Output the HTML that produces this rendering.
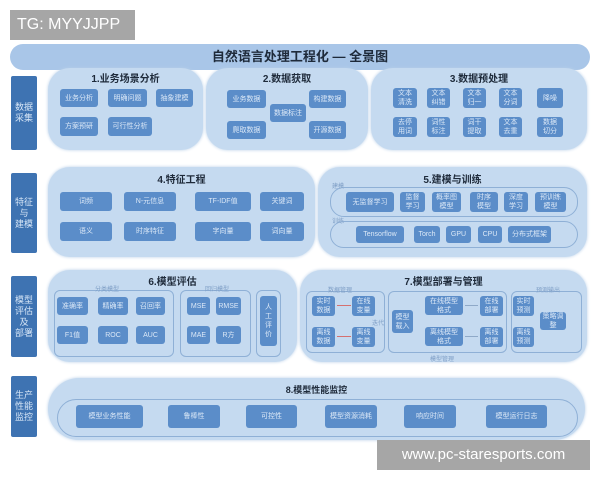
<!DOCTYPE html>
<html><head><meta charset="utf-8"><style>
body{margin:0;width:600px;height:480px;background:#fff;position:relative;overflow:hidden;font-family:"Liberation Sans","Noto Sans CJK SC",sans-serif}
div{position:absolute;box-sizing:border-box}
.p{background:#c5daf0;border-radius:22px;box-shadow:0 0 3px #b8cfe8}
.b{background:#5b8dc9;color:#dbe8f7;font-size:7px;border-radius:3px;display:flex;align-items:center;justify-content:center;text-align:center;line-height:9px}
.s{background:#3e73b2;color:#d6e5f6;font-size:9px;border-radius:2px;display:flex;align-items:center;justify-content:center;text-align:center;line-height:11px;left:11px;width:26px}
.t{font-size:10px;font-weight:bold;color:#1e2a3a;text-align:center}
.o{border:1px solid #8fb0d6;border-radius:14px}
.g{border:1px solid #8fb0d6;border-radius:6px}
.l{font-size:6px;color:#7f9fc6}
</style></head><body>
<div style="left:10px;top:10px;width:125px;height:30px;background:#a6a6a6;color:#fff;font-size:16px;line-height:30px;padding-left:7px">TG: MYYJJPP</div>
<div style="left:10px;top:44px;width:580px;height:26px;background:#a9c6e8;border-radius:13px;text-align:center;font-size:13px;font-weight:bold;line-height:26px;color:#1e2a3a">自然语言处理工程化 — 全景图</div>

<div class="s" style="top:76px;height:74px">数据<br>采集</div>
<div class="p" style="left:48px;top:68px;width:155px;height:82px"></div>
<div class="p" style="left:206px;top:68px;width:162px;height:82px"></div>
<div class="p" style="left:371px;top:68px;width:216px;height:82px"></div>
<div class="t" style="left:48px;top:70px;width:155px">1.业务场景分析</div>
<div class="t" style="left:206px;top:70px;width:162px">2.数据获取</div>
<div class="t" style="left:371px;top:70px;width:216px">3.数据预处理</div>
<div class="b" style="left:60px;top:89px;width:38px;height:18px">业务分析</div>
<div class="b" style="left:108px;top:89px;width:39px;height:18px">明确问题</div>
<div class="b" style="left:156px;top:89px;width:37px;height:18px">抽象建模</div>
<div class="b" style="left:60px;top:117px;width:38px;height:19px">方案预研</div>
<div class="b" style="left:108px;top:117px;width:44px;height:19px">可行性分析</div>
<div class="b" style="left:227px;top:90px;width:39px;height:18px">业务数据</div>
<div class="b" style="left:270px;top:104px;width:36px;height:18px">数据标注</div>
<div class="b" style="left:309px;top:90px;width:37px;height:18px">构建数据</div>
<div class="b" style="left:227px;top:121px;width:39px;height:18px">爬取数据</div>
<div class="b" style="left:309px;top:121px;width:37px;height:18px">开源数据</div>
<div class="b" style="left:393px;top:88px;width:24px;height:20px">文本<br>清洗</div>
<div class="b" style="left:427px;top:88px;width:23px;height:20px">文本<br>纠错</div>
<div class="b" style="left:463px;top:88px;width:23px;height:20px">文本<br>归一</div>
<div class="b" style="left:499px;top:88px;width:23px;height:20px">文本<br>分词</div>
<div class="b" style="left:537px;top:88px;width:26px;height:20px">降噪</div>
<div class="b" style="left:393px;top:117px;width:24px;height:20px">去停<br>用词</div>
<div class="b" style="left:427px;top:117px;width:23px;height:20px">词性<br>标注</div>
<div class="b" style="left:463px;top:117px;width:23px;height:20px">词干<br>提取</div>
<div class="b" style="left:499px;top:117px;width:23px;height:20px">文本<br>去重</div>
<div class="b" style="left:537px;top:117px;width:26px;height:20px">数据<br>切分</div>

<div class="s" style="top:173px;height:80px">特征<br>与<br>建模</div>
<div class="p" style="left:48px;top:167px;width:267px;height:90px"></div>
<div class="p" style="left:318px;top:167px;width:269px;height:90px"></div>
<div class="t" style="left:48px;top:171px;width:267px">4.特征工程</div>
<div class="t" style="left:318px;top:171px;width:269px">5.建模与训练</div>
<div class="b" style="left:60px;top:192px;width:52px;height:19px">词频</div>
<div class="b" style="left:124px;top:192px;width:52px;height:19px">N-元信息</div>
<div class="b" style="left:195px;top:192px;width:56px;height:19px">TF-IDF值</div>
<div class="b" style="left:260px;top:192px;width:44px;height:19px">关键词</div>
<div class="b" style="left:60px;top:222px;width:52px;height:19px">语义</div>
<div class="b" style="left:124px;top:222px;width:52px;height:19px">时序特征</div>
<div class="b" style="left:195px;top:222px;width:56px;height:19px">字向量</div>
<div class="b" style="left:260px;top:222px;width:44px;height:19px">词向量</div>
<div class="o" style="left:330px;top:187px;width:248px;height:30px"></div>
<div class="o" style="left:330px;top:221px;width:248px;height:27px"></div>
<div class="l" style="left:332px;top:181px">建模</div>
<div class="l" style="left:332px;top:216px">训练</div>
<div class="b" style="left:346px;top:192px;width:48px;height:20px">无监督学习</div>
<div class="b" style="left:400px;top:192px;width:25px;height:20px">监督<br>学习</div>
<div class="b" style="left:432px;top:192px;width:29px;height:20px">概率图<br>模型</div>
<div class="b" style="left:470px;top:192px;width:28px;height:20px">时序<br>模型</div>
<div class="b" style="left:504px;top:192px;width:24px;height:20px">深度<br>学习</div>
<div class="b" style="left:535px;top:192px;width:31px;height:20px">预训练<br>模型</div>
<div class="b" style="left:356px;top:226px;width:48px;height:17px">Tensorflow</div>
<div class="b" style="left:414px;top:226px;width:26px;height:17px">Torch</div>
<div class="b" style="left:446px;top:226px;width:25px;height:17px">GPU</div>
<div class="b" style="left:478px;top:226px;width:24px;height:17px">CPU</div>
<div class="b" style="left:508px;top:226px;width:43px;height:17px">分布式框架</div>

<div class="s" style="top:276px;height:81px">模型<br>评估<br>及<br>部署</div>
<div class="p" style="left:48px;top:270px;width:249px;height:92px"></div>
<div class="p" style="left:300px;top:270px;width:287px;height:92px"></div>
<div class="t" style="left:48px;top:273px;width:249px">6.模型评估</div>
<div class="t" style="left:300px;top:273px;width:287px">7.模型部署与管理</div>
<div class="g" style="left:54px;top:290px;width:120px;height:67px"></div>
<div class="g" style="left:180px;top:290px;width:71px;height:67px"></div>
<div class="g" style="left:256px;top:290px;width:25px;height:67px"></div>
<div class="l" style="left:95px;top:284px">分类模型</div>
<div class="l" style="left:205px;top:284px">回归模型</div>
<div class="b" style="left:57px;top:297px;width:31px;height:18px">准确率</div>
<div class="b" style="left:98px;top:297px;width:30px;height:18px">精确率</div>
<div class="b" style="left:136px;top:297px;width:29px;height:18px">召回率</div>
<div class="b" style="left:57px;top:326px;width:31px;height:18px">F1值</div>
<div class="b" style="left:98px;top:326px;width:30px;height:18px">ROC</div>
<div class="b" style="left:136px;top:326px;width:29px;height:18px">AUC</div>
<div class="b" style="left:187px;top:297px;width:23px;height:18px">MSE</div>
<div class="b" style="left:216px;top:297px;width:25px;height:18px">RMSE</div>
<div class="b" style="left:187px;top:326px;width:23px;height:18px">MAE</div>
<div class="b" style="left:216px;top:326px;width:25px;height:18px">R方</div>
<div class="b" style="left:260px;top:296px;width:17px;height:50px">人<br>工<br>评<br>价</div>
<div class="g" style="left:306px;top:291px;width:79px;height:62px"></div>
<div class="g" style="left:388px;top:291px;width:119px;height:62px"></div>
<div class="g" style="left:511px;top:291px;width:71px;height:62px"></div>
<div class="l" style="left:328px;top:285px">数据管理</div>
<div class="l" style="left:536px;top:285px">预测输出</div>
<div class="l" style="left:430px;top:354px">模型管理</div>
<div class="l" style="left:372px;top:318px">迭代</div>
<div class="b" style="left:312px;top:296px;width:23px;height:20px">实时<br>数据</div>
<div class="b" style="left:352px;top:296px;width:23px;height:20px">在线<br>变量</div>
<div class="b" style="left:312px;top:327px;width:23px;height:20px">离线<br>数据</div>
<div class="b" style="left:352px;top:327px;width:23px;height:20px">离线<br>变量</div>
<div class="b" style="left:392px;top:310px;width:21px;height:23px">模型<br>载入</div>
<div class="b" style="left:425px;top:296px;width:38px;height:19px">在线模型<br>格式</div>
<div class="b" style="left:425px;top:327px;width:38px;height:19px">离线模型<br>格式</div>
<div class="b" style="left:480px;top:296px;width:23px;height:20px">在线<br>部署</div>
<div class="b" style="left:480px;top:327px;width:23px;height:20px">离线<br>部署</div>
<div class="b" style="left:513px;top:296px;width:21px;height:20px">实时<br>预测</div>
<div class="b" style="left:513px;top:327px;width:21px;height:20px">离线<br>预测</div>
<div class="b" style="left:540px;top:312px;width:26px;height:18px">策略调整</div>
<div style="left:337px;top:305px;width:14px;height:1px;background:#d57070"></div>
<div style="left:337px;top:336px;width:14px;height:1px;background:#d57070"></div>
<div style="left:465px;top:305px;width:13px;height:1px;background:#8fa9c8"></div>
<div style="left:465px;top:336px;width:13px;height:1px;background:#8fa9c8"></div>

<div class="s" style="top:376px;height:61px">生产<br>性能<br>监控</div>
<div class="p" style="left:48px;top:378px;width:537px;height:62px;border-radius:31px"></div>
<div class="t" style="left:48px;top:383px;width:537px;font-size:9px">8.模型性能监控</div>
<div class="o" style="left:57px;top:399px;width:521px;height:38px;border-radius:19px"></div>
<div class="b" style="left:76px;top:405px;width:67px;height:23px">模型业务性能</div>
<div class="b" style="left:168px;top:405px;width:52px;height:23px">鲁棒性</div>
<div class="b" style="left:246px;top:405px;width:51px;height:23px">可控性</div>
<div class="b" style="left:325px;top:405px;width:52px;height:23px">模型资源消耗</div>
<div class="b" style="left:404px;top:405px;width:52px;height:23px">响应时间</div>
<div class="b" style="left:486px;top:405px;width:61px;height:23px">模型运行日志</div>

<div style="left:377px;top:440px;width:213px;height:30px;background:#a6a6a6;color:#fff;font-size:15px;line-height:30px;text-align:center">www.pc-staresports.com</div>
</body></html>
